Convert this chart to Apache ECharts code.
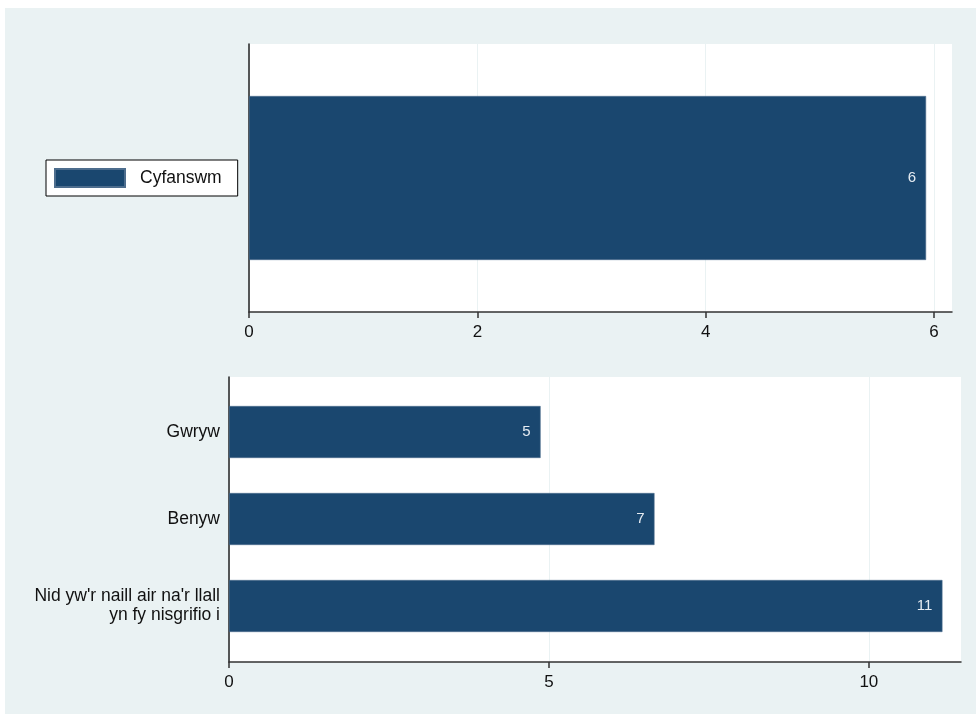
<!DOCTYPE html>
<html>
<head>
<meta charset="utf-8">
<script src="https://cdn.jsdelivr.net/npm/echarts@6/dist/echarts.min.js"></script>
<style>
html,body{margin:0;padding:0;background:#fff;}
#chart{width:976px;height:714px;}
</style>
</head>
<body>
<div id="chart"></div>
<script>
// ---- data ----
const totalCategories = ['Cyfanswm'];
const totalValues = [5.93];
const genderCategories = ['Gwryw', 'Benyw', "Nid yw'r naill air na'r llall\nyn fy nisgrifio i"];
const genderValues = [4.87, 6.65, 11.15];
const topTicks = [0, 2, 4, 6];
const bottomTicks = [0, 5, 10];
const topMax = 6.157;
const bottomMax = 11.44;

const BAR = '#1a476f';
const BG = '#eaf2f3';
const FONT = '"Liberation Sans", Arial, sans-serif';

const chart = echarts.init(document.getElementById('chart'), null, {renderer: 'canvas'});

function valueAxis(gridIndex, max, interval, ticks, show) {
  return {
    type: 'value', gridIndex: gridIndex, min: 0, max: max, interval: interval,
    show: show,
    axisLine: {show: true, onZero: false, lineStyle: {color: '#333', width: 1.5}},
    axisTick: {show: true, length: 6, customValues: ticks, lineStyle: {color: '#333', width: 1.5}},
    axisLabel: {show: true, customValues: ticks, margin: 12, fontSize: 17, color: '#111', fontFamily: FONT},
    splitLine: {show: true, lineStyle: {color: BG, width: 1}}
  };
}

const option = {
  backgroundColor: '#fff',
  animation: false,
  textStyle: {fontFamily: FONT},
  graphic: [{
    type: 'rect', z: -10, silent: true,
    shape: {x: 5, y: 8, width: 971, height: 706},
    style: {fill: BG}
  }],
  legend: {
    data: ['Cyfanswm'],
    left: 46, top: 160,
    orient: 'horizontal',
    backgroundColor: '#fff',
    borderColor: '#000', borderWidth: 1,
    padding: [8, 16, 8, 8],
    itemWidth: 70, itemHeight: 18,
    icon: 'rect',
    textStyle: {fontSize: 17.5, color: '#111', fontFamily: FONT, padding: [0, 0, 0, 10]}
  },
  grid: [
    {left: 249, top: 44, width: 703, height: 268, show: true, backgroundColor: '#fff', borderWidth: 0, containLabel: false},
    {left: 229, top: 377, width: 732, height: 285, show: true, backgroundColor: '#fff', borderWidth: 0, containLabel: false},
    {left: 229, top: 388.5, width: 732, height: 261, show: false, containLabel: false}
  ],
  xAxis: [
    valueAxis(0, topMax, 2, topTicks, true),
    valueAxis(1, bottomMax, 5, bottomTicks, true),
    {type: 'value', gridIndex: 2, min: 0, max: bottomMax, show: false}
  ],
  yAxis: [
    {type: 'category', gridIndex: 0, data: totalCategories,
     axisLine: {show: true, lineStyle: {color: '#222', width: 1.5}},
     axisTick: {show: false}, axisLabel: {show: false}},
    {type: 'category', gridIndex: 1, data: [''],
     axisLine: {show: true, lineStyle: {color: '#222', width: 1.5}},
     axisTick: {show: false}, axisLabel: {show: false}},
    {type: 'category', gridIndex: 2, data: genderCategories, inverse: true,
     axisLine: {show: false}, axisTick: {show: false}, splitLine: {show: false},
     axisLabel: {show: true, margin: 9, fontSize: 17.5, color: '#111', fontFamily: FONT, align: 'right', lineHeight: 19}}
  ],
  series: [
    {
      name: 'Cyfanswm', type: 'bar', xAxisIndex: 0, yAxisIndex: 0,
      data: totalValues, barWidth: 164,
      itemStyle: {color: BAR, borderColor: '#4d6d8d', borderWidth: 0.6},
      label: {show: true, position: 'insideRight', distance: 10, color: '#e6ecf2', fontSize: 15, fontFamily: FONT,
              formatter: p => String(Math.round(p.value))}
    },
    {
      name: 'gender', type: 'bar', xAxisIndex: 2, yAxisIndex: 2,
      data: genderValues, barWidth: 52,
      itemStyle: {color: BAR, borderColor: '#4d6d8d', borderWidth: 0.6},
      label: {show: true, position: 'insideRight', distance: 10, color: '#e6ecf2', fontSize: 15, fontFamily: FONT,
              formatter: p => String(Math.round(p.value))}
    }
  ]
};
chart.setOption(option);
</script>
</body>
</html>
